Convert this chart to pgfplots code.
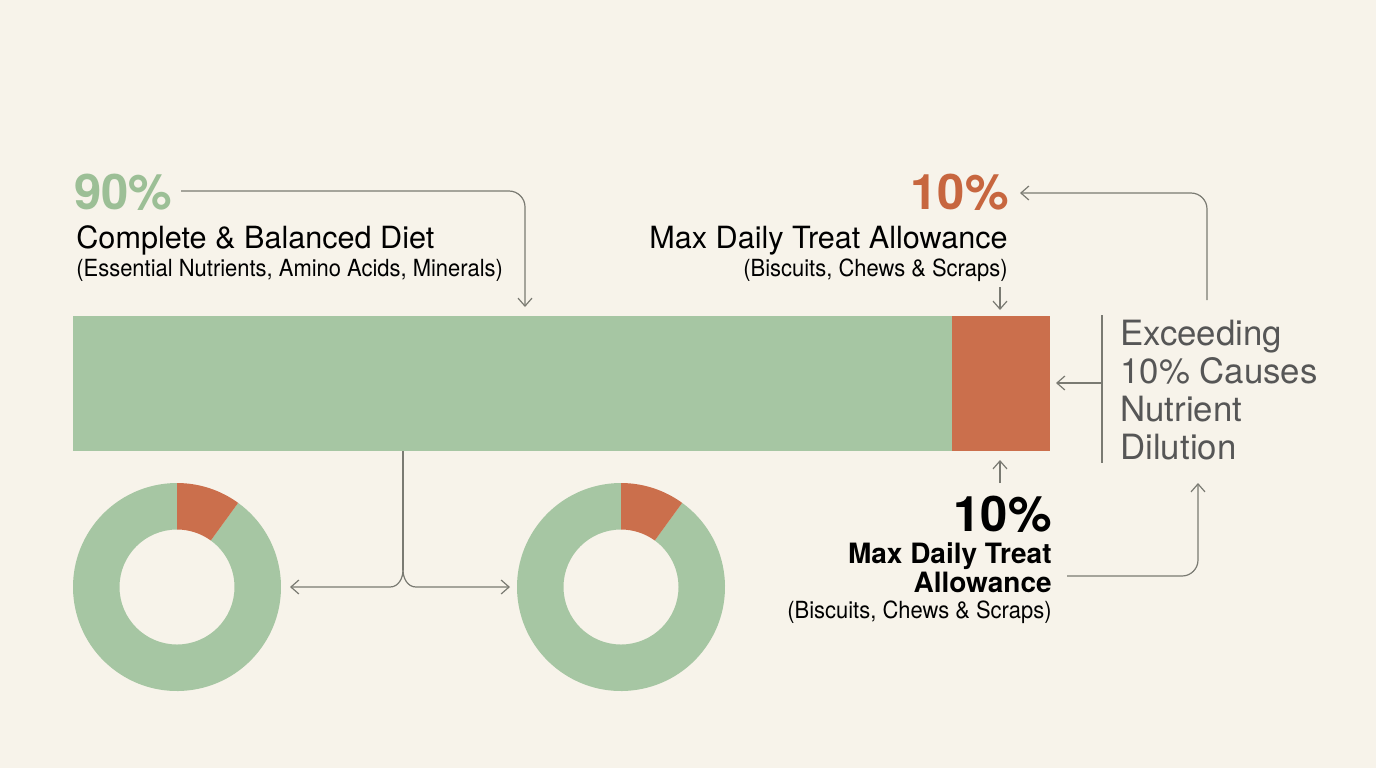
\documentclass[border=0pt]{standalone}
\usepackage{pgfplots}
\pgfplotsset{compat=1.18}
\usepackage{fontspec}
\setmainfont{TeX Gyre Heros}
\newfontfamily\condfont[FakeStretch=0.93]{TeX Gyre Heros}
\usetikzlibrary{arrows.meta}
\definecolor{bgc}{HTML}{F7F3EA}
\definecolor{dietgreen}{HTML}{A6C6A3}
\definecolor{treatorange}{HTML}{CB6F4C}
\definecolor{pctgreen}{HTML}{9CBF96}
\definecolor{pctorange}{HTML}{C7663F}
\definecolor{linegray}{HTML}{7A7A72}
\definecolor{notegray}{HTML}{565656}
\begin{document}
\begin{tikzpicture}[x=0.5pt,y=-0.5pt,
  arr/.style={draw=linegray, line width=0.6pt, -{Straight Barb[length=4pt,width=7pt]}},
  ln/.style={draw=linegray, line width=0.6pt}]
\fill[bgc] (0,0) rectangle (1376,768);
\coordinate (barpos) at (73,451);
\coordinate (donutA) at (177,587);
\coordinate (donutB) at (621,587);

% main stacked bar
\begin{axis}[at={(barpos)}, anchor=south west, scale only axis,
  width=488.5pt, height=67.5pt, hide axis, clip=false,
  xbar stacked, bar width=67.5pt, xmin=0, xmax=100, ymin=0.5, ymax=1.5]
\addplot[fill=dietgreen, draw=none] coordinates {(90,1)};
\addplot[fill=treatorange, draw=none] coordinates {(10,1)};
\end{axis}

% donuts (90 / 10)
\def\treatshare{10}
\pgfmathsetmacro\treatang{90-3.6*\treatshare}
\foreach \dn in {donutA,donutB}{
\begin{axis}[at={(\dn)}, anchor=center, scale only axis,
  width=104pt, height=104pt, hide axis, clip=false,
  xmin=-1, xmax=1, ymin=-1, ymax=1]
\fill[dietgreen] ([shift={(\treatang:52pt)}]axis cs:0,0) arc[start angle=\treatang, end angle=-270, radius=52pt]
  -- ([shift={(90:28.75pt)}]axis cs:0,0) arc[start angle=-270, end angle=\treatang, radius=28.75pt] -- cycle;
\fill[treatorange] ([shift={(90:52pt)}]axis cs:0,0) arc[start angle=90, end angle=\treatang, radius=52pt]
  -- ([shift={(\treatang:28.75pt)}]axis cs:0,0) arc[start angle=\treatang, end angle=90, radius=28.75pt] -- cycle;
\end{axis}
}

% top left annotation
\node[anchor=base west, inner sep=0pt, text=pctgreen, font=\fontsize{24.5}{26}\selectfont\bfseries] at (74,209) {90\%};
\node[anchor=base west, inner sep=0pt, font=\fontsize{15.3}{17}\selectfont] at (76,248) {Complete \& Balanced Diet};
\node[anchor=base west, inner sep=0pt, font=\condfont\fontsize{11.8}{13}\selectfont] at (76,276) {(Essential Nutrients, Amino Acids, Minerals)};
\draw[arr, rounded corners=8pt] (181,191) -- (525,191) -- (525,307);

% top right annotation
\node[anchor=base east, inner sep=0pt, text=pctorange, font=\fontsize{24.5}{26}\selectfont\bfseries] at (1009,209) {10\%};
\node[anchor=base east, inner sep=0pt, font=\fontsize{15.3}{17}\selectfont] at (1008,248) {Max Daily Treat Allowance};
\node[anchor=base east, inner sep=0pt, font=\condfont\fontsize{11.8}{13}\selectfont] at (1008,276) {(Biscuits, Chews \& Scraps)};
\draw[arr] (1000,287) -- (1000,310);
\draw[arr, rounded corners=8pt] (1207,300) -- (1207,193) -- (1020,193);

% right note
\draw[ln] (1102,315) -- (1102,463);
\draw[arr] (1102,383) -- (1056,383);
\node[anchor=base west, inner sep=0pt, text=notegray, font=\fontsize{17.4}{19}\selectfont] at (1120,345) {Exceeding};
\node[anchor=base west, inner sep=0pt, text=notegray, font=\fontsize{17.4}{19}\selectfont] at (1120,383) {10\% Causes};
\node[anchor=base west, inner sep=0pt, text=notegray, font=\fontsize{17.4}{19}\selectfont] at (1120,421) {Nutrient};
\node[anchor=base west, inner sep=0pt, text=notegray, font=\fontsize{17.4}{19}\selectfont] at (1120,459) {Dilution};

% bottom right annotation
\draw[arr] (1000,483) -- (1000,460);
\node[anchor=base east, inner sep=0pt, font=\fontsize{24.5}{26}\selectfont\bfseries] at (1052,531) {10\%};
\node[anchor=base east, inner sep=0pt, font=\fontsize{14}{16}\selectfont\bfseries] at (1052,563) {Max Daily Treat};
\node[anchor=base east, inner sep=0pt, font=\fontsize{14}{16}\selectfont\bfseries] at (1052,592) {Allowance};
\node[anchor=base east, inner sep=0pt, font=\condfont\fontsize{11.8}{13}\selectfont] at (1052,618) {(Biscuits, Chews \& Scraps)};
\draw[arr, rounded corners=8pt] (1067,576) -- (1198,576) -- (1198,483);

% connector to donuts
\draw[ln] (403,451) -- (403,570);
\draw[arr] (403,570) to[out=-90,in=0] (390,587) -- (290,587);
\draw[arr] (403,570) to[out=-90,in=180] (416,587) -- (510,587);
\end{tikzpicture}
\end{document}
